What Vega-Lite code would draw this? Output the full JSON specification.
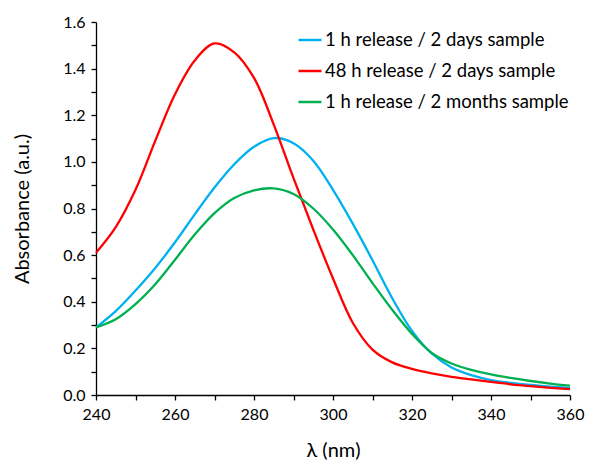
{
  "$schema": "https://vega.github.io/schema/vega-lite/v6.json",
  "width": 474,
  "height": 373,
  "autosize": {"type": "none"},
  "padding": {"left": 96, "top": 22, "right": 19, "bottom": 65},
  "background": "white",
  "config": {"view": {"stroke": null}, "font": "Lato"},
  "data": {
    "values": [
      {"x": 240, "y": 0.29, "s": "1 h release / 2 days sample"},
      {"x": 245, "y": 0.36, "s": "1 h release / 2 days sample"},
      {"x": 250, "y": 0.448, "s": "1 h release / 2 days sample"},
      {"x": 255, "y": 0.545, "s": "1 h release / 2 days sample"},
      {"x": 260, "y": 0.655, "s": "1 h release / 2 days sample"},
      {"x": 265, "y": 0.775, "s": "1 h release / 2 days sample"},
      {"x": 270, "y": 0.89, "s": "1 h release / 2 days sample"},
      {"x": 275, "y": 0.99, "s": "1 h release / 2 days sample"},
      {"x": 280, "y": 1.065, "s": "1 h release / 2 days sample"},
      {"x": 285, "y": 1.102, "s": "1 h release / 2 days sample"},
      {"x": 290, "y": 1.08, "s": "1 h release / 2 days sample"},
      {"x": 295, "y": 1.005, "s": "1 h release / 2 days sample"},
      {"x": 300, "y": 0.88, "s": "1 h release / 2 days sample"},
      {"x": 305, "y": 0.735, "s": "1 h release / 2 days sample"},
      {"x": 310, "y": 0.578, "s": "1 h release / 2 days sample"},
      {"x": 315, "y": 0.415, "s": "1 h release / 2 days sample"},
      {"x": 320, "y": 0.275, "s": "1 h release / 2 days sample"},
      {"x": 325, "y": 0.178, "s": "1 h release / 2 days sample"},
      {"x": 330, "y": 0.118, "s": "1 h release / 2 days sample"},
      {"x": 335, "y": 0.085, "s": "1 h release / 2 days sample"},
      {"x": 340, "y": 0.064, "s": "1 h release / 2 days sample"},
      {"x": 345, "y": 0.052, "s": "1 h release / 2 days sample"},
      {"x": 350, "y": 0.043, "s": "1 h release / 2 days sample"},
      {"x": 355, "y": 0.036, "s": "1 h release / 2 days sample"},
      {"x": 360, "y": 0.030, "s": "1 h release / 2 days sample"},
      {"x": 240, "y": 0.61, "s": "48 h release / 2 days sample"},
      {"x": 245, "y": 0.72, "s": "48 h release / 2 days sample"},
      {"x": 250, "y": 0.88, "s": "48 h release / 2 days sample"},
      {"x": 255, "y": 1.09, "s": "48 h release / 2 days sample"},
      {"x": 260, "y": 1.29, "s": "48 h release / 2 days sample"},
      {"x": 265, "y": 1.435, "s": "48 h release / 2 days sample"},
      {"x": 270, "y": 1.508, "s": "48 h release / 2 days sample"},
      {"x": 275, "y": 1.47, "s": "48 h release / 2 days sample"},
      {"x": 280, "y": 1.36, "s": "48 h release / 2 days sample"},
      {"x": 285, "y": 1.16, "s": "48 h release / 2 days sample"},
      {"x": 290, "y": 0.93, "s": "48 h release / 2 days sample"},
      {"x": 295, "y": 0.71, "s": "48 h release / 2 days sample"},
      {"x": 300, "y": 0.50, "s": "48 h release / 2 days sample"},
      {"x": 305, "y": 0.31, "s": "48 h release / 2 days sample"},
      {"x": 310, "y": 0.195, "s": "48 h release / 2 days sample"},
      {"x": 315, "y": 0.14, "s": "48 h release / 2 days sample"},
      {"x": 320, "y": 0.112, "s": "48 h release / 2 days sample"},
      {"x": 325, "y": 0.093, "s": "48 h release / 2 days sample"},
      {"x": 330, "y": 0.078, "s": "48 h release / 2 days sample"},
      {"x": 335, "y": 0.067, "s": "48 h release / 2 days sample"},
      {"x": 340, "y": 0.056, "s": "48 h release / 2 days sample"},
      {"x": 345, "y": 0.046, "s": "48 h release / 2 days sample"},
      {"x": 350, "y": 0.038, "s": "48 h release / 2 days sample"},
      {"x": 355, "y": 0.031, "s": "48 h release / 2 days sample"},
      {"x": 360, "y": 0.025, "s": "48 h release / 2 days sample"},
      {"x": 240, "y": 0.29, "s": "1 h release / 2 months sample"},
      {"x": 245, "y": 0.325, "s": "1 h release / 2 months sample"},
      {"x": 250, "y": 0.39, "s": "1 h release / 2 months sample"},
      {"x": 255, "y": 0.475, "s": "1 h release / 2 months sample"},
      {"x": 260, "y": 0.58, "s": "1 h release / 2 months sample"},
      {"x": 265, "y": 0.688, "s": "1 h release / 2 months sample"},
      {"x": 270, "y": 0.78, "s": "1 h release / 2 months sample"},
      {"x": 275, "y": 0.845, "s": "1 h release / 2 months sample"},
      {"x": 280, "y": 0.878, "s": "1 h release / 2 months sample"},
      {"x": 285, "y": 0.886, "s": "1 h release / 2 months sample"},
      {"x": 290, "y": 0.862, "s": "1 h release / 2 months sample"},
      {"x": 295, "y": 0.80, "s": "1 h release / 2 months sample"},
      {"x": 300, "y": 0.71, "s": "1 h release / 2 months sample"},
      {"x": 305, "y": 0.60, "s": "1 h release / 2 months sample"},
      {"x": 310, "y": 0.48, "s": "1 h release / 2 months sample"},
      {"x": 315, "y": 0.365, "s": "1 h release / 2 months sample"},
      {"x": 320, "y": 0.262, "s": "1 h release / 2 months sample"},
      {"x": 325, "y": 0.18, "s": "1 h release / 2 months sample"},
      {"x": 330, "y": 0.135, "s": "1 h release / 2 months sample"},
      {"x": 335, "y": 0.108, "s": "1 h release / 2 months sample"},
      {"x": 340, "y": 0.088, "s": "1 h release / 2 months sample"},
      {"x": 345, "y": 0.073, "s": "1 h release / 2 months sample"},
      {"x": 350, "y": 0.060, "s": "1 h release / 2 months sample"},
      {"x": 355, "y": 0.049, "s": "1 h release / 2 months sample"},
      {"x": 360, "y": 0.040, "s": "1 h release / 2 months sample"}
    ]
  },
  "mark": {"type": "line", "interpolate": "catmull-rom", "strokeWidth": 2.3},
  "encoding": {
    "x": {
      "field": "x",
      "type": "quantitative",
      "scale": {"domain": [240, 360], "nice": false, "zero": false},
      "axis": {
        "values": [240, 250, 260, 270, 280, 290, 300, 310, 320, 330, 340, 350, 360],
        "labelExpr": "datum.value % 20 == 0 ? datum.label : ''",
        "grid": false,
        "domainColor": "#000000",
        "domainWidth": 1.3,
        "tickColor": "#000000",
        "tickWidth": 1.3,
        "tickSize": 5,
        "labelFontSize": 16,
        "labelColor": "#000000",
        "labelPadding": 6,
        "labelOverlap": false,
        "labelFlush": false,
        "title": "λ (nm)",
        "titleFontSize": 20,
        "titleFontWeight": "normal",
        "titleColor": "#000000",
        "titlePadding": 18
      }
    },
    "y": {
      "field": "y",
      "type": "quantitative",
      "scale": {"domain": [0, 1.6], "nice": false},
      "axis": {
        "values": [0, 0.1, 0.2, 0.3, 0.4, 0.5, 0.6, 0.7, 0.8, 0.9, 1.0, 1.1, 1.2, 1.3, 1.4, 1.5, 1.6],
        "format": ".1f",
        "labelExpr": "round(datum.value * 10) % 2 == 0 ? datum.label : ''",
        "grid": false,
        "domainColor": "#000000",
        "domainWidth": 1.3,
        "tickColor": "#000000",
        "tickWidth": 1.3,
        "tickSize": 5,
        "labelFontSize": 16,
        "labelColor": "#000000",
        "labelPadding": 6,
        "labelOverlap": false,
        "labelFlush": false,
        "title": "Absorbance (a.u.)",
        "titleFontSize": 20,
        "titleFontWeight": "normal",
        "titleColor": "#000000",
        "titlePadding": 30
      }
    },
    "color": {
      "field": "s",
      "type": "nominal",
      "scale": {
        "domain": ["1 h release / 2 days sample", "48 h release / 2 days sample", "1 h release / 2 months sample"],
        "range": ["#00B0F0", "#FF0000", "#00B050"]
      },
      "legend": {
        "title": null,
        "orient": "none",
        "legendX": 201,
        "legendY": 5,
        "padding": 0,
        "symbolType": "stroke",
        "symbolSize": 529,
        "symbolStrokeWidth": 2.5,
        "labelFontSize": 18.5,
        "labelColor": "#000000",
        "labelOffset": 2,
        "rowPadding": 8,
        "labelLimit": 400
      }
    }
  }
}
